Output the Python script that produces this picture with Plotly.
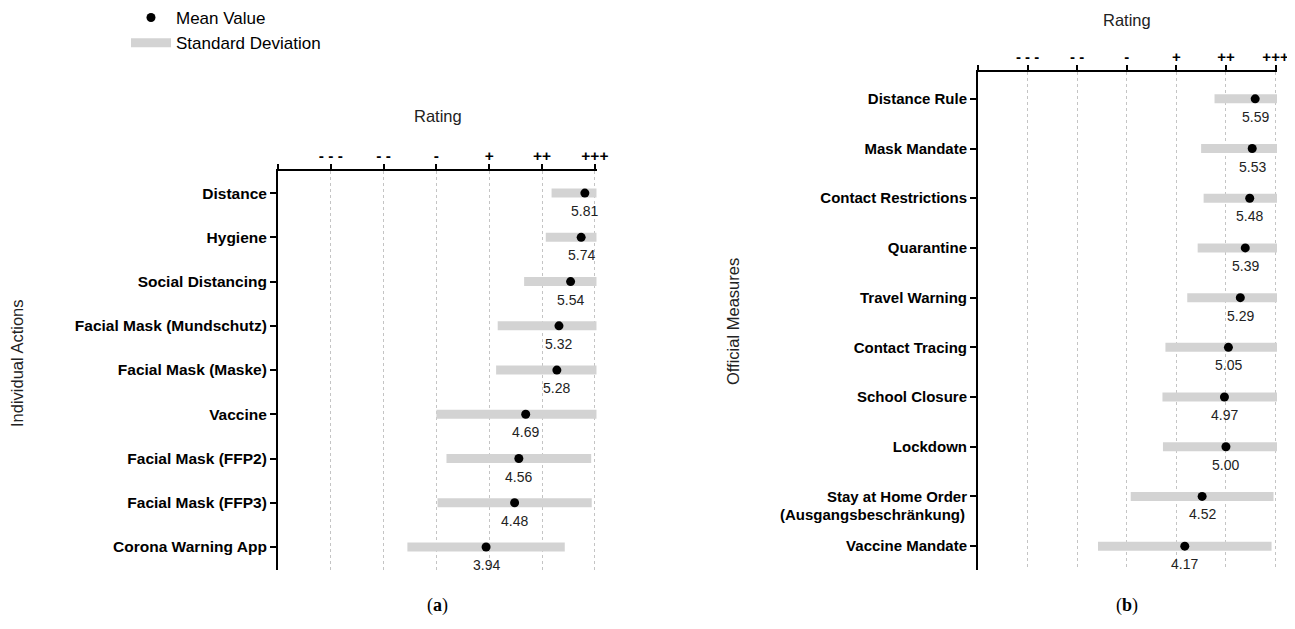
import plotly.graph_objects as go

# ---------------- data ----------------
rating_ticks = [0, 1, 2, 3, 4, 5, 6]
rating_labels = ["", "- - -", "- -", "-", "+", "++", "+++"]
rating_max = 6.03

actions = ["Distance", "Hygiene", "Social Distancing", "Facial Mask (Mundschutz)",
           "Facial Mask (Maske)", "Vaccine", "Facial Mask (FFP2)", "Facial Mask (FFP3)",
           "Corona Warning App"]
actions_mean = [5.81, 5.74, 5.54, 5.32, 5.28, 4.69, 4.56, 4.48, 3.94]
actions_sd = [0.63, 0.67, 0.88, 1.16, 1.15, 1.69, 1.37, 1.46, 1.49]

measures = ["Distance Rule", "Mask Mandate", "Contact Restrictions", "Quarantine",
            "Travel Warning", "Contact Tracing", "School Closure", "Lockdown",
            "Stay at Home Order\n(Ausgangsbeschränkung)", "Vaccine Mandate"]
measures_mean = [5.59, 5.53, 5.48, 5.39, 5.29, 5.05, 4.97, 5.00, 4.52, 4.17]
measures_sd = [0.82, 1.03, 0.93, 0.96, 1.07, 1.27, 1.25, 1.27, 1.44, 1.75]

FONT = "Liberation Sans, Arial, sans-serif"
SD_COLOR = "#d3d3d3"

# page body has an 8px margin: figure is sized/offset to fill the window
OFF = 8
W, H = 1295 - OFF, 629 - OFF


def px_x(x):
    return (x - OFF) / W


def px_y(y):
    return 1 - (y - OFF) / H


fig = go.Figure()


def add_panel(names, means, sds, xa, ya, show_legend):
    sx, sy = [], []
    for i, (m, s) in enumerate(zip(means, sds)):
        sx += [m - s, min(m + s, rating_max), None]
        sy += [i, i, None]
    fig.add_trace(go.Scatter(x=sx, y=sy, mode="lines", xaxis=xa, yaxis=ya,
                             line=dict(color=SD_COLOR, width=9),
                             name="Standard Deviation", showlegend=show_legend,
                             legendrank=2, hoverinfo="skip"))
    fig.add_trace(go.Scatter(x=means, y=list(range(len(means))), mode="markers",
                             xaxis=xa, yaxis=ya,
                             marker=dict(color="black", size=9),
                             name="Mean Value", showlegend=show_legend, legendrank=1))
    for i, m in enumerate(means):
        fig.add_annotation(x=m, y=i, xref=xa, yref=ya, text=f"{m:.2f}",
                           showarrow=False, yshift=-18, xanchor="center", yanchor="middle",
                           font=dict(family=FONT, size=14, color="#222222"))


add_panel(actions, actions_mean, actions_sd, "x", "y", True)
add_panel(measures, measures_mean, measures_sd, "x2", "y2", False)


def xaxis_style(fs):
    return dict(side="top", tickvals=rating_ticks, ticktext=rating_labels,
                showline=True, linecolor="black", linewidth=2,
                ticks="outside", ticklen=5, tickwidth=1.5, tickcolor="black",
                ticklabelstandoff=-3,
                tickfont=dict(family=FONT, size=fs, color="black", weight="bold"),
                showgrid=True, gridcolor="#c4c4c4", griddash="dot", gridwidth=1,
                zeroline=False, fixedrange=True, automargin=False)


def yaxis_style(fs):
    return dict(showline=True, linecolor="black", linewidth=2,
                ticks="outside", ticklen=6, tickwidth=1.5, tickcolor="black",
                tickfont=dict(family=FONT, size=fs, color="black", weight="bold"),
                showgrid=False, zeroline=False, fixedrange=True, automargin=False)


measure_ticks = [n.split("\n")[0] for n in measures]

fig.update_layout(
    width=W, height=H,
    margin=dict(l=0, r=0, t=0, b=0, autoexpand=False),
    paper_bgcolor="white", plot_bgcolor="white",
    font=dict(family=FONT, color="black"),
    xaxis=dict(xaxis_style(15.5), domain=[px_x(278), px_x(597)], range=[0, 6.04], anchor="y"),
    yaxis=dict(yaxis_style(15.5), domain=[px_y(570), px_y(171)], range=[8.52, -0.5],
               tickvals=list(range(len(actions))), ticktext=actions, anchor="x"),
    xaxis2=dict(xaxis_style(15), domain=[px_x(978), px_x(1277)], range=[0, 6.03], anchor="y2"),
    yaxis2=dict(yaxis_style(15), domain=[px_y(570), px_y(72)], range=[9.48, -0.54],
                tickvals=list(range(len(measures))), ticktext=measure_ticks, anchor="x2"),
    legend=dict(x=px_x(126), y=px_y(0), xanchor="left", yanchor="top",
                font=dict(family=FONT, size=17, color="black"),
                bgcolor="rgba(0,0,0,0)", itemwidth=40, traceorder="normal"),
    showlegend=True,
)

# second line of the two-line category label
for i, n in enumerate(measures):
    parts = n.split("\n")
    if len(parts) > 1:
        fig.add_annotation(x=px_x(967), xref="paper", xanchor="right", y=i, yref="y2",
                           yanchor="middle", yshift=-18, text=parts[1], showarrow=False,
                           font=dict(family=FONT, size=15, color="black", weight="bold"))

# axis titles and panel captions
titles = [
    dict(x=px_x(437.5), y=px_y(116), text="Rating", textangle=0),
    dict(x=px_x(1127), y=px_y(20), text="Rating", textangle=0),
    dict(x=px_x(17), y=px_y(363), text="Individual Actions", textangle=-90),
    dict(x=px_x(733), y=px_y(321), text="Official Measures", textangle=-90),
]
for t in titles:
    fig.add_annotation(xref="paper", yref="paper", showarrow=False,
                       xanchor="center", yanchor="middle",
                       font=dict(family=FONT, size=16.5, color="#222222"), **t)

for cx, lab in [(437.5, "a"), (1127, "b")]:
    fig.add_annotation(x=px_x(cx), y=px_y(605), xref="paper", yref="paper",
                       xanchor="center", yanchor="middle",
                       text=f"(<b>{lab}</b>)", showarrow=False,
                       font=dict(family="Liberation Serif, Times New Roman, serif",
                                 size=18, color="black"))

fig.write_html("out.html")
